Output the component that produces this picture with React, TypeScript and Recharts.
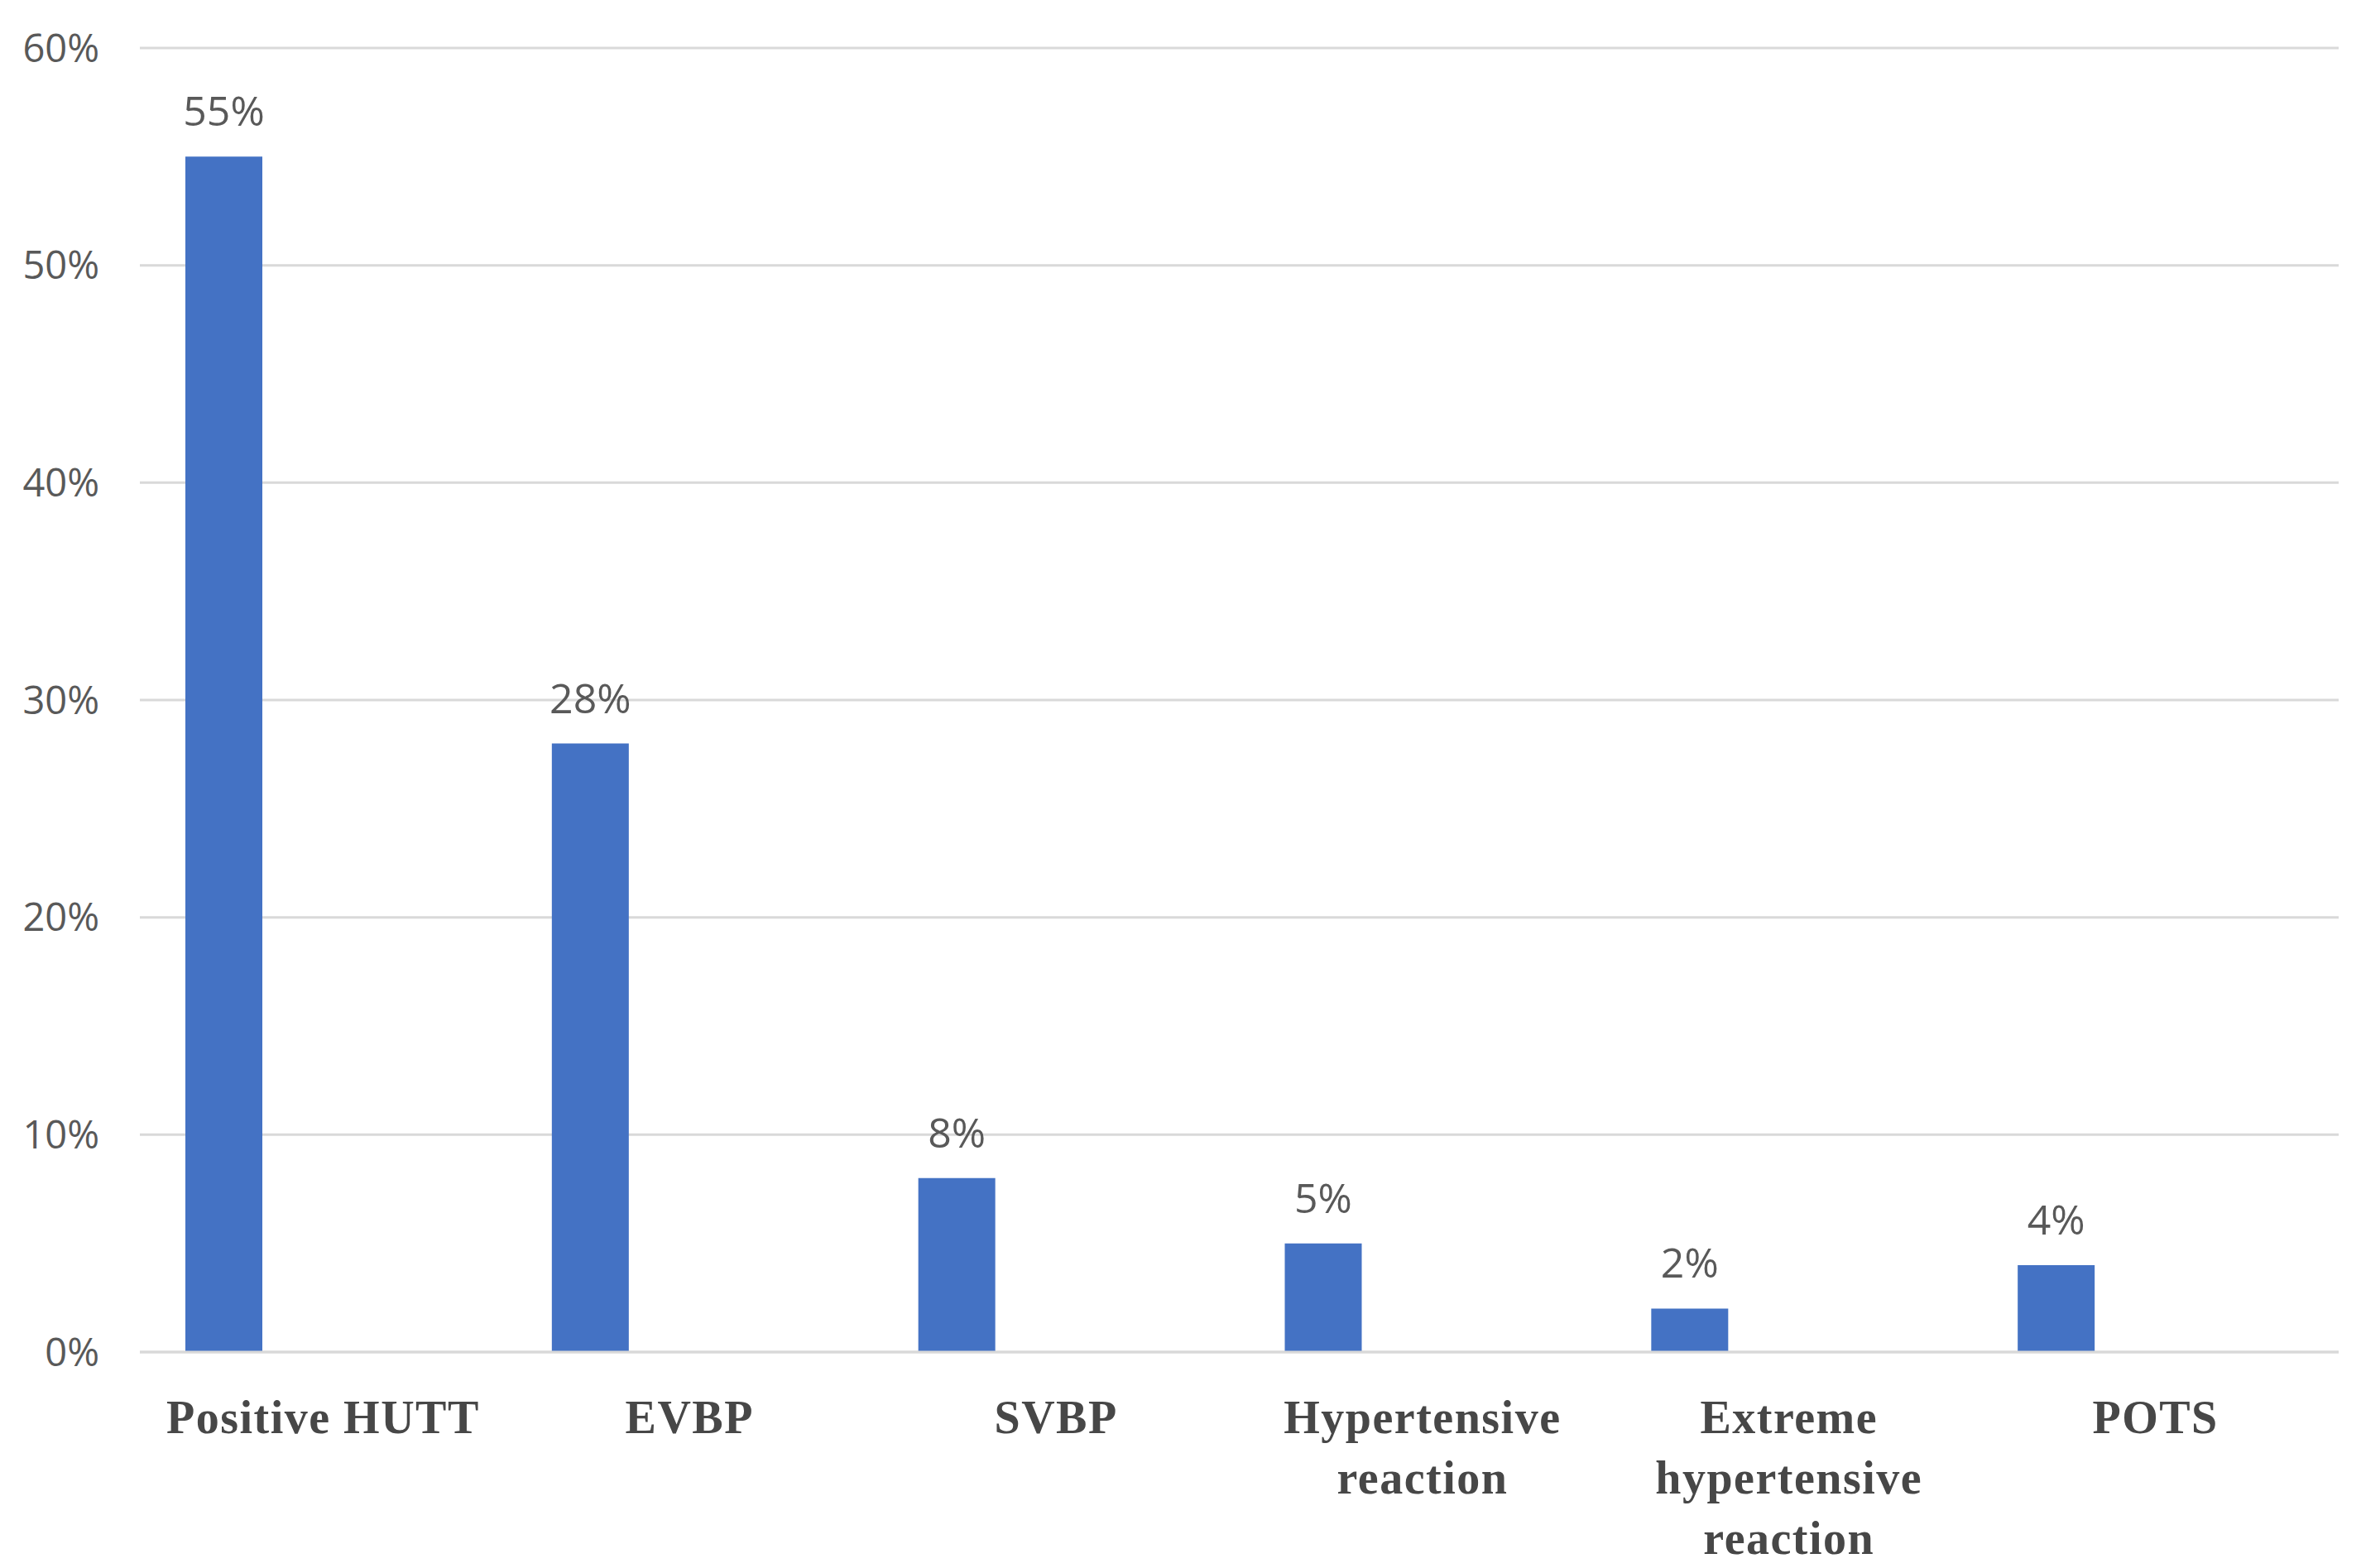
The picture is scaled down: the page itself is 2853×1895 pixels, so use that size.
import React from "react";
import { BarChart, Bar, XAxis, YAxis, CartesianGrid, LabelList } from "recharts";

const categories = [
  "Positive HUTT",
  "EVBP",
  "SVBP",
  "Hypertensive reaction",
  "Extreme hypertensive reaction",
  "POTS",
];
const percentValues = [55, 28, 8, 5, 2, 4];
const tickLines: string[][] = [
  ["Positive HUTT"],
  ["EVBP"],
  ["SVBP"],
  ["Hypertensive", "reaction"],
  ["Extreme", "hypertensive", "reaction"],
  ["POTS"],
];
const yTicks = [0, 10, 20, 30, 40, 50, 60];

const chartData = categories.map((name, i) => ({
  name,
  value: percentValues[i],
  empty: null,
}));

const GRID = "#d9d9d9";
const BAR = "#4472c4";

function CategoryTick(props: any) {
  const { x, y, payload } = props;
  const idx = categories.indexOf(payload.value);
  const lines = tickLines[idx] ?? [payload.value];
  return (
    <text
      x={x}
      y={y + 78}
      textAnchor="middle"
      fill="#474747"
      fontFamily="'Liberation Serif', serif"
      fontWeight="bold"
      fontSize={56}
      letterSpacing={1.5}
    >
      {lines.map((line, i) => (
        <tspan key={i} x={x} dy={i === 0 ? "0.35em" : 73}>
          {line}
        </tspan>
      ))}
    </text>
  );
}

export default function App() {
  return (
    <div style={{ width: 2853, height: 1895, background: "#fff" }}>
      <style>{"body{margin:0}"}</style>
      <BarChart
        width={2853}
        height={1895}
        data={chartData}
        margin={{ top: 58, right: 27, left: 0, bottom: 0 }}
        barGap={147}
        barSize={93}
      >
        <CartesianGrid vertical={false} stroke={GRID} strokeWidth={3} />
        <XAxis
          dataKey="name"
          height={261}
          axisLine={{ stroke: GRID, strokeWidth: 3 }}
          tickLine={false}
          tickSize={0}
          tickMargin={0}
          interval={0}
          tick={<CategoryTick />}
        />
        <YAxis
          width={169}
          domain={[0, 60]}
          ticks={yTicks}
          axisLine={false}
          tickLine={false}
          tickSize={0}
          tickMargin={49}
          tickFormatter={(v) => `${v}%`}
          tick={{ fill: "#595959", fontSize: 47, fontFamily: "'Open Sans', sans-serif" }}
        />
        <Bar dataKey="value" fill={BAR} isAnimationActive={false}>
          <LabelList
            dataKey="value"
            position="top"
            offset={37}
            formatter={(v: any) => `${v}%`}
            fill="#595959"
            fontSize={50}
            fontFamily="'Open Sans', sans-serif"
          />
        </Bar>
        <Bar dataKey="empty" fill={BAR} isAnimationActive={false} />
      </BarChart>
    </div>
  );
}
